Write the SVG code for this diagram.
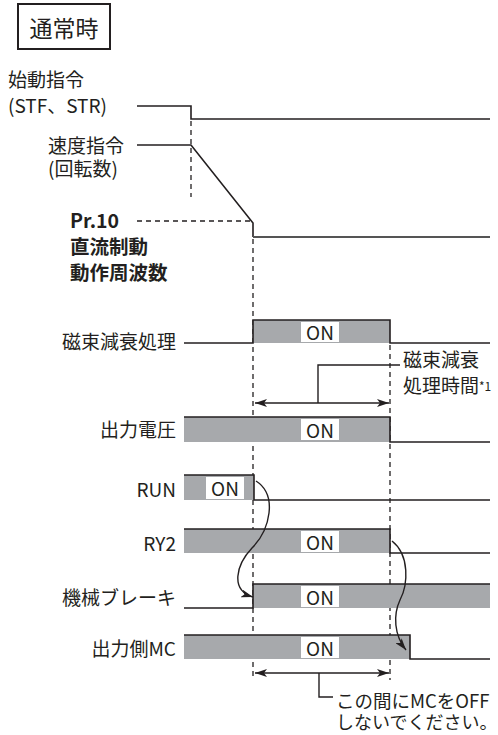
<svg xmlns="http://www.w3.org/2000/svg" width="498" height="735" viewBox="0 0 498 735">
<style>
text{font-family:"Noto Sans CJK JP","Noto Sans",sans-serif;fill:#231f20}
.lbl{font-size:19px;text-anchor:end}
.b{font-weight:bold;font-size:19.5px}
.on{font-size:19px;text-anchor:middle}
.ln{fill:none;stroke:#231f20;stroke-width:1.6}
.dash{fill:none;stroke:#231f20;stroke-width:1.3;stroke-dasharray:5,4}
.bar{fill:#a7a9ac}
.onbox{fill:#fff}
.arr{fill:none;stroke:#231f20;stroke-width:1.4}
</style>
<defs>
<marker id="ah" viewBox="0 0 12 8" refX="12" refY="4" markerWidth="12" markerHeight="8" markerUnits="userSpaceOnUse" orient="auto-start-reverse">
<path d="M0,0 L12,4 L0,8 L3,4 Z" fill="#231f20"/>
</marker>
</defs>
<rect width="498" height="735" fill="#fff"/>

<g id="title">
<rect x="18" y="4" width="92" height="45" fill="#fff" stroke="#231f20" stroke-width="2"/>
<text x="64" y="37" style="font-size:23px;text-anchor:middle">通常時</text>
</g>

<g id="start-cmd">
<text style="font-size:19px"><tspan x="8" y="87">始動指令</tspan><tspan x="8" y="113">(STF、STR)</tspan></text>
<path class="ln" d="M137,106 H191 V119 H490"/>
</g>

<g id="speed-cmd">
<text style="font-size:19px"><tspan x="48" y="153">速度指令</tspan><tspan x="48" y="176">(回転数)</tspan></text>
<path class="ln" d="M137,145 H191 L253,223 V237"/>
<path d="M253,237 H490" fill="none" stroke="#555" stroke-width="1.8"/>
</g>

<g id="pr10">
<text class="b"><tspan x="70" y="228">Pr.10</tspan><tspan x="70" y="254">直流制動</tspan><tspan x="70" y="280">動作周波数</tspan></text>
</g>

<g id="guides">
<path class="dash" d="M191,121 V197"/>
<path class="dash" d="M137,221 H251"/>
<path class="dash" d="M253,239 V680"/>
<path class="dash" d="M390,345 V680"/>
</g>

<g id="flux">
<text class="lbl" x="176" y="349">磁束減衰処理</text>
<rect class="bar" x="253" y="320" width="137" height="23"/>
<rect class="onbox" x="301" y="322" width="38" height="20"/>
<text class="on" x="320" y="340">ON</text>
<path class="ln" d="M184,343 H253 V320 H390 V343 H490"/>
</g>

<g id="output-voltage">
<text class="lbl" x="176" y="437">出力電圧</text>
<rect class="bar" x="184" y="417" width="206" height="25"/>
<rect class="onbox" x="301" y="419" width="38" height="21"/>
<text class="on" x="320" y="438">ON</text>
<path class="ln" d="M184,417 H390 V442 H490"/>
</g>

<g id="run">
<text class="lbl" x="176" y="497">RUN</text>
<rect class="bar" x="184" y="475" width="70" height="25"/>
<rect class="onbox" x="206" y="477" width="38" height="22"/>
<text class="on" x="225" y="496">ON</text>
<path class="ln" d="M184,475 H254 V500 H490"/>
</g>

<g id="ry2">
<text class="lbl" x="176" y="551">RY2</text>
<rect class="bar" x="184" y="529" width="206" height="24"/>
<rect class="onbox" x="301" y="531" width="38" height="21"/>
<text class="on" x="320" y="550">ON</text>
<path class="ln" d="M184,529 H390 V553 H490"/>
</g>

<g id="brake">
<text class="lbl" x="176" y="605">機械ブレーキ</text>
<rect class="bar" x="253" y="584" width="237" height="24"/>
<rect class="onbox" x="301" y="586" width="38" height="21"/>
<text class="on" x="320" y="605">ON</text>
<path class="ln" d="M184,608 H253 V584 H490"/>
</g>

<g id="output-mc">
<text class="lbl" x="176" y="656">出力側MC</text>
<rect class="bar" x="184" y="635" width="226" height="24"/>
<rect class="onbox" x="301" y="637" width="38" height="21"/>
<text class="on" x="320" y="656">ON</text>
<path class="ln" d="M184,635 H410 V659 H490"/>
</g>

<g id="note-flux-time">
<text style="font-size:19px"><tspan x="403" y="367">磁束減衰</tspan><tspan x="403" y="393">処理時間</tspan><tspan style="font-size:12px" dy="-2">*1</tspan></text>
</g>

<g id="note-mc">
<text style="font-size:18.5px"><tspan x="336" y="708">この間にMCをOFF</tspan><tspan x="336" y="729" style="font-size:18px">しないでください。</tspan></text>
</g>

<g id="connectors">
<path class="arr" d="M255,403 H389" marker-start="url(#ah)" marker-end="url(#ah)"/>
<path class="arr" d="M318,403 V365 H400"/>
<path class="arr" d="M255,673 H389" marker-start="url(#ah)" marker-end="url(#ah)"/>
<path class="arr" d="M319,673 V697 H333"/>
<path class="arr" d="M256,481 C278,495 270,530 252,548 C236,565 230,590 253,597" marker-end="url(#ah)"/>
<path class="arr" d="M392,541 C410,555 408,585 400,600 C393,615 394,635 406,650" marker-end="url(#ah)"/>
</g>
</svg>
